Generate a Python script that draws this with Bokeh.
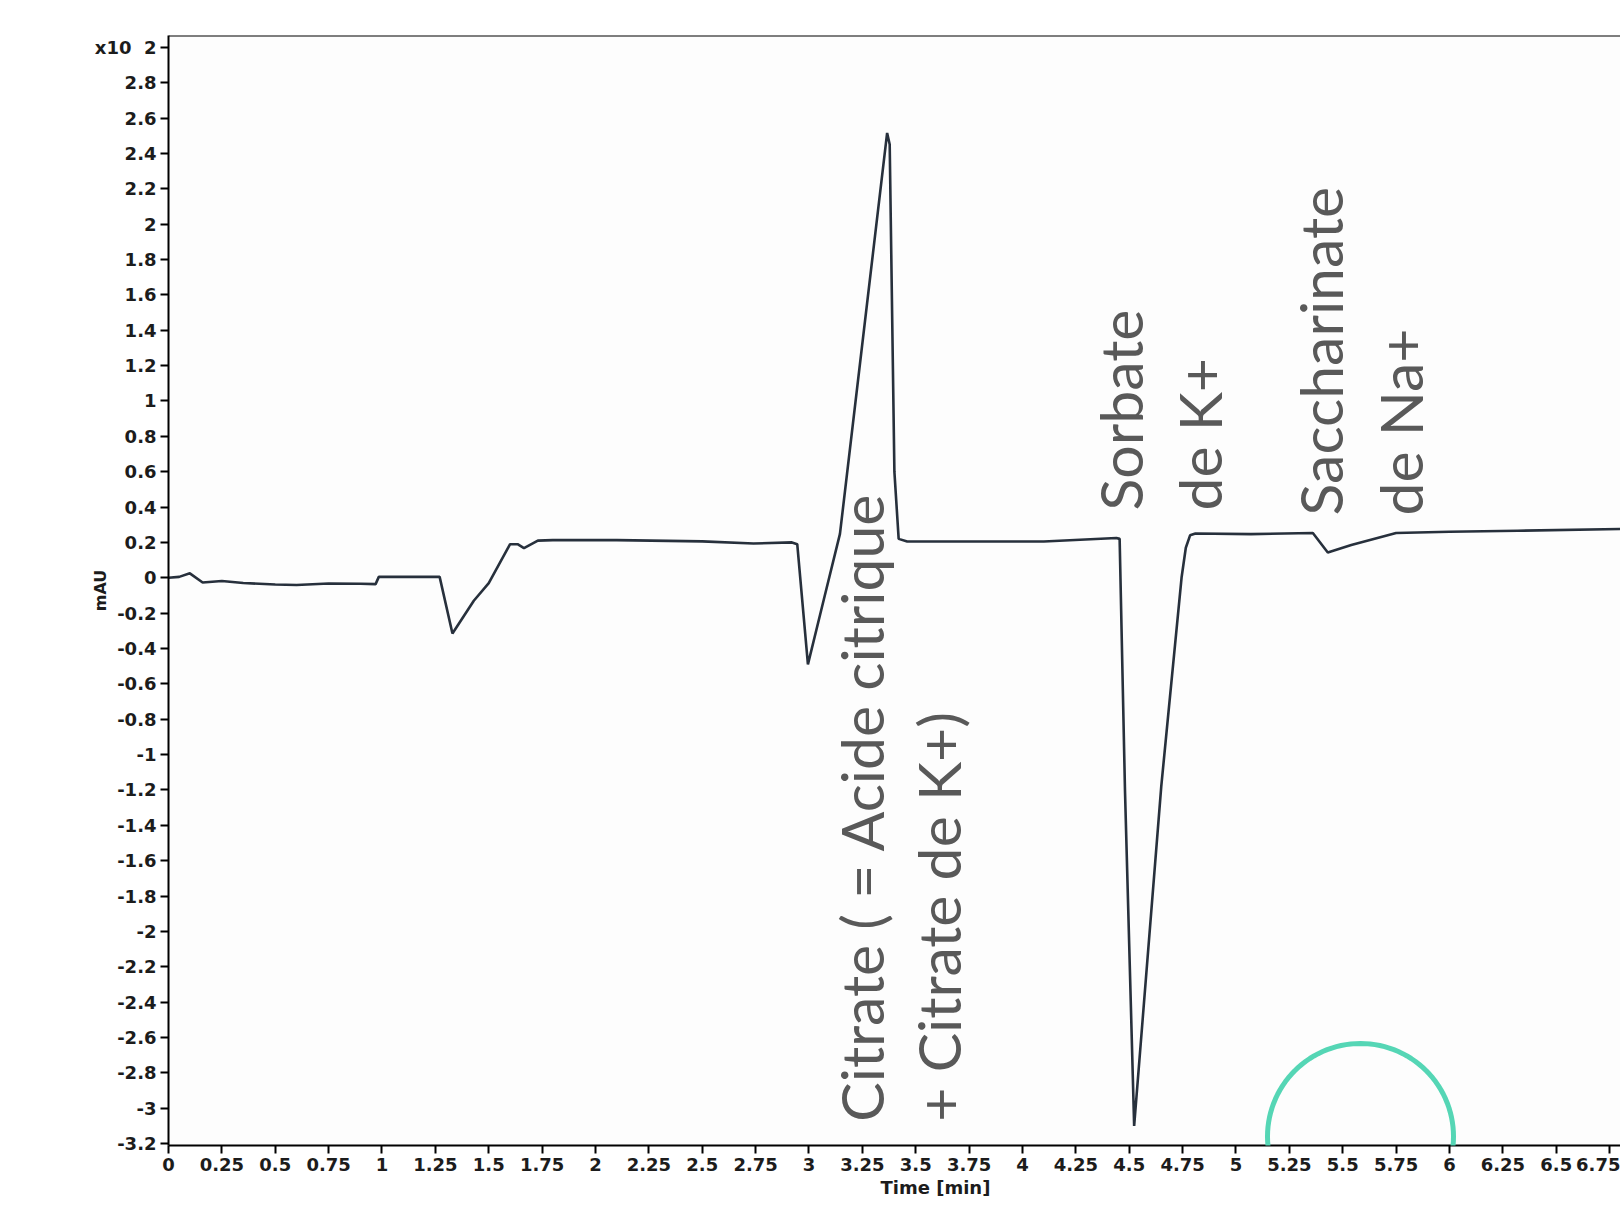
import numpy as np
from bokeh.plotting import figure
from bokeh.models import (Label, Span, PolyAnnotation, FixedTicker, Range1d,
                          CustomJSTickFormatter, Title)
from bokeh.embed import file_html
from bokeh.resources import INLINE

# ---- data (signal in x10^2 mAU) ----
time_min = [0.00, 0.05, 0.10, 0.16, 0.25, 0.35, 0.50, 0.60, 0.75, 0.90, 0.97,
            0.985, 1.10, 1.27, 1.33, 1.43, 1.50, 1.60, 1.635, 1.665, 1.73,
            1.80, 2.10, 2.50, 2.74, 2.92, 2.945, 2.995, 3.07, 3.145, 3.366,
            3.378, 3.40, 3.42, 3.46, 3.80, 4.10, 4.44, 4.455, 4.48, 4.523,
            4.65, 4.745, 4.765, 4.785, 4.81, 5.07, 5.36, 5.43, 5.54, 5.75,
            6.00, 6.32, 6.82]
signal = [0.00, 0.005, 0.025, -0.027, -0.018, -0.030, -0.038, -0.041, -0.032,
          -0.034, -0.036, 0.005, 0.005, 0.005, -0.315, -0.13, -0.03, 0.19,
          0.19, 0.168, 0.21, 0.213, 0.213, 0.206, 0.194, 0.200, 0.19, -0.49,
          -0.12, 0.248, 2.516, 2.45, 0.60, 0.22, 0.205, 0.205, 0.205, 0.225,
          0.22, -1.20, -3.10, -1.18, 0.0, 0.17, 0.24, 0.25, 0.247, 0.253,
          0.143, 0.185, 0.253, 0.26, 0.266, 0.276]

x_ticks = [0.25 * i for i in range(28)]
y_ticks = [round(-3.2 + 0.2 * i, 1) for i in range(32)]

peak_names = ["Citrate ( = Acide citrique", "+ Citrate de K+)", "Sorbate",
              "de K+", "Saccharinate", "de Na+"]
peak_label_x = [3.245, 3.606, 4.457, 4.831, 5.398, 5.77]
peak_label_y = [-3.076, -3.076, 0.38, 0.38, 0.352, 0.352]

X0, X1 = 0.0, 6.801
Y0, Y1 = -3.211, 3.067

p = figure(width=1620, height=1210, output_backend="svg", toolbar_location=None,
           x_range=Range1d(X0, X1), y_range=Range1d(Y0, Y1),
           min_border_left=168, min_border_right=0, min_border_top=35,
           min_border_bottom=65)
p.outline_line_color = None
p.xgrid.visible = False
p.ygrid.visible = False
p.background_fill_color = "#fdfdfd"
p.border_fill_color = "white"

p.line(time_min, signal, line_color="#27303c", line_width=2.6)

# top frame line
p.add_layout(Span(location=Y1, dimension="width", line_color="black", line_width=2))

tick_font = "DejaVu Sans"
for ax in (p.xaxis[0], p.yaxis[0]):
    ax.axis_line_color = "black"
    ax.axis_line_width = 2
    ax.major_tick_line_color = "black"
    ax.major_tick_line_width = 2
    ax.major_tick_out = 8
    ax.major_tick_in = 0
    ax.minor_tick_out = 0
    ax.minor_tick_in = 0
    ax.major_label_text_font = tick_font
    ax.major_label_text_font_style = "bold"
    ax.major_label_text_font_size = "18px"
    ax.major_label_text_color = "#1c1c1c"
    ax.major_label_standoff = 4

p.xaxis.ticker = FixedTicker(ticks=x_ticks, minor_ticks=[])
p.yaxis.ticker = FixedTicker(ticks=y_ticks, minor_ticks=[])
p.xaxis.formatter = CustomJSTickFormatter(
    code="const v = Math.round(tick*100)/100; return (v === 0) ? '0' : v.toString();")
p.yaxis.formatter = CustomJSTickFormatter(
    code="const v = Math.round(tick*100)/100; if (Math.abs(v-3) < 1e-9) { return 'x10\\u00a0\\u00a02'; } return (v === 0) ? '0' : v.toString();")

p.yaxis.axis_label = "mAU"
p.yaxis.axis_label_text_font = tick_font
p.yaxis.axis_label_text_font_style = "bold"
p.yaxis.axis_label_text_font_size = "16px"
p.yaxis.axis_label_text_color = "#1c1c1c"
p.yaxis.axis_label_standoff = -18

p.add_layout(Title(text="Time [min]", align="left", offset=712, standoff=2,
                   text_font=tick_font, text_font_style="bold",
                   text_font_size="18px", text_color="#1c1c1c"), "below")

for name, lx, ly in zip(peak_names, peak_label_x, peak_label_y):
    p.add_layout(Label(x=lx, y=ly, text=name, angle=np.pi / 2,
                       text_font="Lato", text_font_size="59px",
                       text_color="#595959", text_align="left",
                       text_baseline="alphabetic"))

# teal highlight circle (slide decoration), canvas pixels
theta = np.linspace(0, 2 * np.pi, 121)
cx, cy, r = 1360, 1136, 93
p.add_layout(PolyAnnotation(xs=list(cx + r * np.cos(theta)),
                            ys=list(cy + r * np.sin(theta)),
                            xs_units="canvas", ys_units="canvas",
                            fill_color=None, fill_alpha=0, line_alpha=1.0,
                            line_color="#55d6b5", line_width=5))

open("out.html", "w").write(file_html(p, INLINE))
